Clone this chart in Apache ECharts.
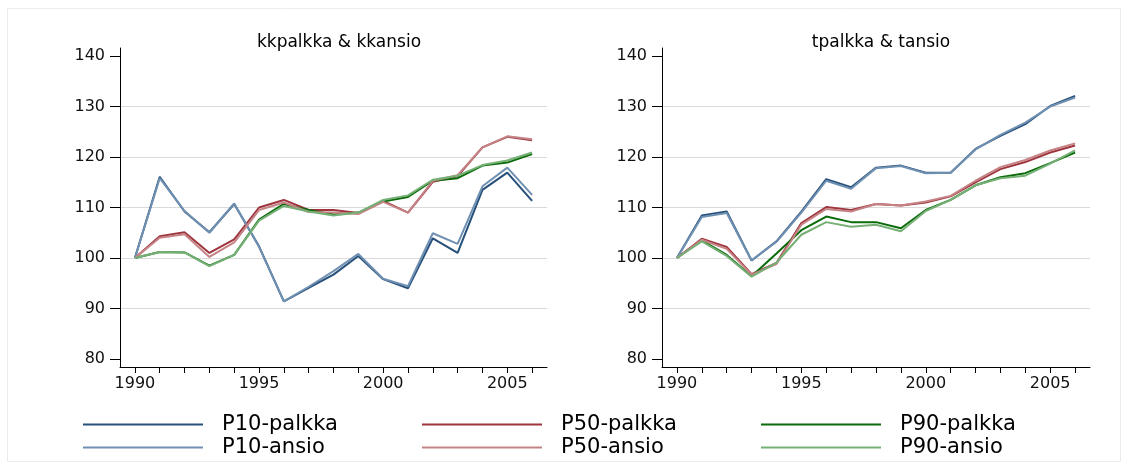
<!DOCTYPE html>
<html>
<head>
<meta charset="utf-8">
<script src="https://cdn.jsdelivr.net/npm/echarts@6/dist/echarts.min.js"></script>
<style>
  html, body { margin: 0; padding: 0; background: #fff; }
  #chart { width: 1129px; height: 470px; }
</style>
</head>
<body>
<div id="chart"></div>
<script>
// vuodet
const years = [1990, 1991, 1992, 1993, 1994, 1995, 1996, 1997, 1998, 1999, 2000, 2001, 2002, 2003, 2004, 2005, 2006];
const yTicks = [80, 90, 100, 110, 120, 130, 140];
const xLabelYears = [1990, 1995, 2000, 2005];

// kkpalkka & kkansio
const p10palkkaKK = [100, 116.1, 109.2, 105.1, 110.7, 102.3, 91.4, 94.1, 96.7, 100.4, 95.8, 94.0, 103.9, 101.0, 113.5, 116.9, 111.3];
const p10ansioKK = [100, 115.8, 109.3, 105.0, 110.8, 102.2, 91.4, 94.3, 97.4, 100.8, 95.9, 94.4, 104.9, 102.8, 114.2, 117.9, 112.5];
const p50palkkaKK = [100, 104.3, 105.1, 101.0, 103.7, 110.0, 111.5, 109.5, 109.5, 108.9, 111.3, 109.0, 115.1, 116.2, 121.9, 124.0, 123.3];
const p50ansioKK = [100, 104.0, 104.7, 100.2, 103.1, 109.5, 111.0, 109.1, 109.0, 108.7, 111.1, 109.0, 115.3, 116.4, 121.9, 124.1, 123.5];
const p90palkkaKK = [100, 101.2, 101.1, 98.5, 100.6, 107.6, 110.7, 109.5, 108.6, 109.0, 111.2, 112.1, 115.3, 115.8, 118.3, 118.9, 120.6];
const p90ansioKK = [100, 101.2, 101.1, 98.4, 100.6, 107.4, 110.3, 109.2, 108.4, 109.0, 111.5, 112.4, 115.5, 116.3, 118.4, 119.3, 120.9];

// tpalkka & tansio
const p10palkkaT = [100, 108.4, 109.2, 99.5, 103.3, 109.2, 115.6, 114.0, 117.9, 118.3, 116.9, 116.9, 121.6, 124.2, 126.5, 130.1, 132.1];
const p10ansioT = [100, 108.1, 108.9, 99.5, 103.2, 109.0, 115.3, 113.7, 117.8, 118.2, 116.8, 116.9, 121.5, 124.4, 126.8, 130.0, 131.8];
const p50palkkaT = [100, 103.8, 102.2, 96.8, 99.0, 106.9, 110.1, 109.5, 110.7, 110.4, 111.0, 112.2, 115.0, 117.6, 119.0, 120.9, 122.3];
const p50ansioT = [100, 103.6, 101.8, 96.7, 98.8, 106.6, 109.7, 109.2, 110.7, 110.4, 111.2, 112.3, 115.3, 118.0, 119.4, 121.3, 122.7];
const p90palkkaT = [100, 103.5, 100.6, 96.4, 100.9, 105.5, 108.2, 107.1, 107.1, 105.9, 109.5, 111.5, 114.4, 116.0, 116.8, 118.8, 120.9];
const p90ansioT = [100, 103.3, 100.4, 96.3, 99.1, 104.6, 107.1, 106.2, 106.6, 105.3, 109.3, 111.5, 114.4, 115.8, 116.3, 118.7, 121.3];

const seriesNames = ['P10-palkka', 'P50-palkka', 'P90-palkka', 'P10-ansio', 'P50-ansio', 'P90-ansio'];
const seriesColors = ['#26507a', '#9e343d', '#0a6b0a', '#7090b2', '#c58386', '#76b076'];

const FONT = 'DejaVu Sans';
const panelsData = [
  [p10palkkaKK, p50palkkaKK, p90palkkaKK, p10ansioKK, p50ansioKK, p90ansioKK],
  [p10palkkaT, p50palkkaT, p90palkkaT, p10ansioT, p50ansioT, p90ansioT],
];

const chart = echarts.init(document.getElementById('chart'));

function xAxisFor(idx) {
  return {
    type: 'value',
    gridIndex: idx,
    min: 1989.4,
    max: 2006.6,
    axisLine: { show: true, lineStyle: { color: '#000', width: 1 } },
    axisTick: { show: true, length: 6, customValues: years, lineStyle: { color: '#000' } },
    axisLabel: {
      customValues: xLabelYears,
      formatter: (v) => String(v),
      color: '#111',
      fontFamily: FONT,
      fontSize: 16,
      margin: 9,
    },
    splitLine: { show: false },
  };
}

function yAxisFor(idx) {
  return {
    type: 'value',
    gridIndex: idx,
    min: 78.4,
    max: 141.6,
    axisLine: { show: true, lineStyle: { color: '#000', width: 1 } },
    axisTick: { show: true, length: 10, customValues: yTicks, lineStyle: { color: '#000' } },
    axisLabel: {
      customValues: yTicks,
      color: '#111',
      fontFamily: FONT,
      fontSize: 16,
      margin: 15,
    },
    splitLine: {
      show: true,
      showMinLine: false,
      showMaxLine: false,
      lineStyle: { color: '#dadada', width: 1 },
    },
  };
}

const series = [];
panelsData.forEach((panel, p) => {
  panel.forEach((vals, i) => {
    series.push({
      name: seriesNames[i],
      type: 'line',
      xAxisIndex: p,
      yAxisIndex: p,
      symbol: 'none',
      color: seriesColors[i],
      lineStyle: { width: 2 },
      data: years.map((y, k) => [y, vals[k]]),
    });
  });
});

// legend, 2 rivia x 3 saraketta
const legendCols = [83, 422, 761];
const legendRows = [414, 437];
const legends = seriesNames.map((name, i) => ({
  data: [{ name: name, icon: 'rect' }],
  left: legendCols[i % 3],
  top: legendRows[Math.floor(i / 3)],
  padding: 0,
  itemWidth: 120,
  itemHeight: 2,
  selectedMode: false,
  textStyle: { color: '#000', fontFamily: FONT, fontSize: 21, padding: [0, 0, 0, 14] },
}));

chart.setOption({
  animation: false,
  backgroundColor: '#fff',
  title: [
    { text: 'kkpalkka & kkansio', left: 334, top: 29, textAlign: 'center',
      textStyle: { fontFamily: FONT, fontSize: 17, fontWeight: 'normal', color: '#000' } },
    { text: 'tpalkka & tansio', left: 876, top: 29, textAlign: 'center',
      textStyle: { fontFamily: FONT, fontSize: 17, fontWeight: 'normal', color: '#000' } },
  ],
  grid: [
    { left: 120, top: 48, width: 427, height: 319 },
    { left: 662, top: 48, width: 428, height: 319 },
  ],
  xAxis: [xAxisFor(0), xAxisFor(1)],
  yAxis: [yAxisFor(0), yAxisFor(1)],
  legend: legends,
  graphic: [{
    type: 'rect',
    shape: { x: 7.5, y: 8.5, width: 1113, height: 453 },
    style: { fill: 'none', stroke: '#e8eef0', lineWidth: 1 },
    silent: true,
  }],
  series: series,
});

window.addEventListener('resize', () => chart.resize());
</script>
</body>
</html>
